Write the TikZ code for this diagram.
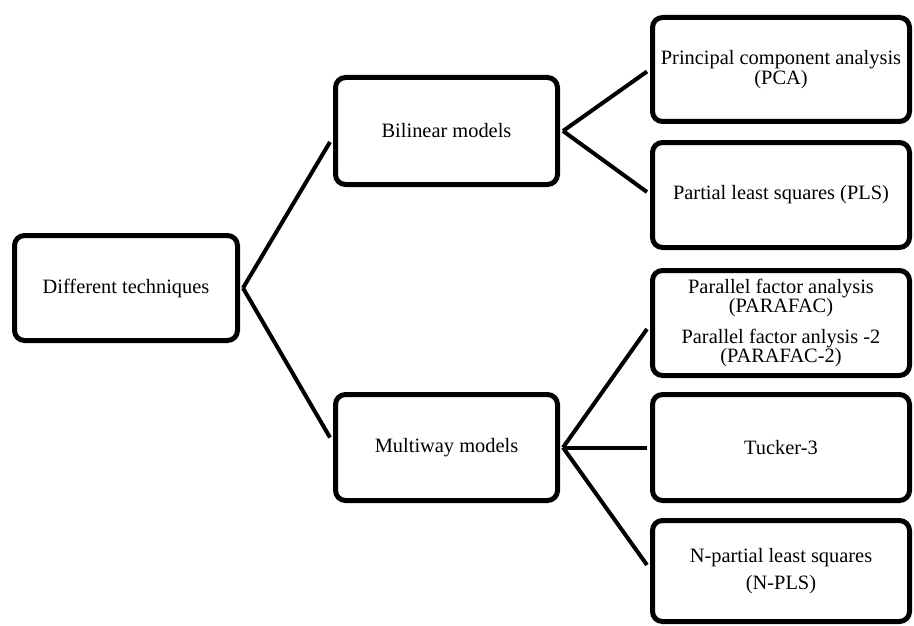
\documentclass[tikz,border=0pt]{standalone}
\usepackage{fontspec}
\setmainfont{Liberation Serif}
\begin{document}
\begin{tikzpicture}[x=1pt,y=1pt,
  box/.style={draw=black, line width=5pt, rounded corners=10pt, align=center,
    inner sep=0pt, fill=white, font=\fontsize{20.4pt}{18pt}\selectfont},
  conn/.style={line width=4pt, black}]
\useasboundingbox (0,0) rectangle (914,-626);
\node[box, minimum width=223pt, minimum height=105pt] (dt) at (126,-288) {Different techniques};
\node[box, minimum width=222pt, minimum height=107pt] (bil) at (446.5,-131) {Bilinear models};
\node[box, minimum width=222pt, minimum height=106pt] (mw) at (446.5,-447.5) {Multiway models};
\node[box, minimum width=257pt, minimum height=104pt] (pca) at (781,-69.5) {Principal component analysis\\(PCA)};
\node[box, minimum width=257pt, minimum height=105pt] (pls) at (781,-195) {Partial least squares (PLS)};
\node[box, minimum width=257pt, minimum height=105pt, font=\fontsize{20.4pt}{19pt}\selectfont] (par) at (781,-323)
  {Parallel factor analysis\\(PARAFAC)\\[12pt]Parallel factor anlysis -2\\(PARAFAC-2)};
\node[box, minimum width=257pt, minimum height=106pt] (tuck) at (781,-447.5) {Tucker-3};
\node[box, minimum width=257pt, minimum height=101pt] (npls) at (781,-571) {N-partial least squares\\[8pt](N-PLS)};
\draw[conn] ([xshift=3pt]dt.east) -- ([xshift=-3pt,yshift=-11pt]bil.west);
\draw[conn] ([xshift=3pt]dt.east) -- ([xshift=-3pt,yshift=10pt]mw.west);
\draw[conn] ([xshift=3pt]bil.east) -- ([xshift=-3pt,yshift=-2pt]pca.west);
\draw[conn] ([xshift=3pt]bil.east) -- ([xshift=-3pt,yshift=3pt]pls.west);
\draw[conn] ([xshift=3pt]mw.east) -- ([xshift=-3pt,yshift=-6pt]par.west);
\draw[conn] ([xshift=3pt]mw.east) -- ([xshift=-3pt]tuck.west);
\draw[conn] ([xshift=3pt]mw.east) -- ([xshift=-3pt,yshift=6pt]npls.west);
\end{tikzpicture}
\end{document}
